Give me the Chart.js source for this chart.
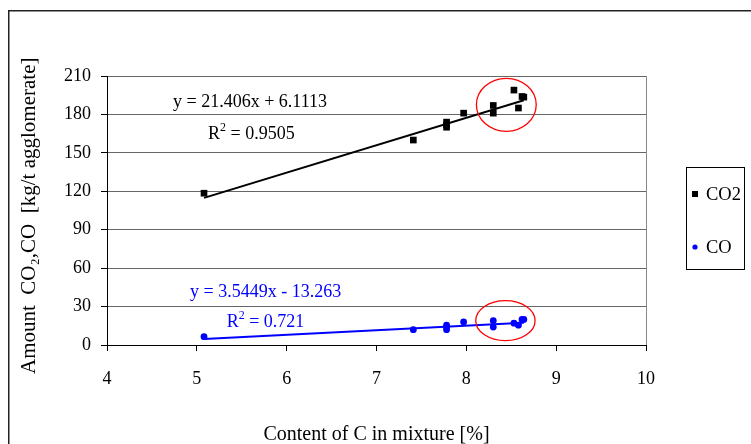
<!DOCTYPE html>
<html><head><meta charset="utf-8">
<script src="https://cdn.jsdelivr.net/npm/chart.js@4/dist/chart.umd.min.js"></script>
<style>html,body{margin:0;padding:0;background:#fff;}#wrap{width:751px;height:444px;position:relative;}</style>
</head><body><div id="wrap"><canvas id="c" width="751" height="444"></canvas></div>
<script>
// ---- data ----
const carbon = [5.08, 7.41, 7.78, 7.78, 7.78, 7.97, 8.30, 8.30, 8.53, 8.58, 8.62, 8.64];
const co2Values = [118.5, 160, 174, 172, 170, 181, 187, 181, 199, 185, 194, 193.5];
const coValues = [6.5, 12, 15.5, 14, 12, 18, 19, 14, 17, 15.5, 20, 20];
const xTickValues = [4, 5, 6, 7, 8, 9, 10];
const yTickValues = [0, 30, 60, 90, 120, 150, 180, 210];
const co2Fit = [21.406, 6.1113, 0.9505];   // slope, intercept, R^2 (as printed)
const coFit = [3.5449, -13.263, 0.721];
const seriesNames = ['CO2', 'CO'];
const xTitle = 'Content of C in mixture [%]';
const yTitle = 'Amount  CO\u2082,CO  [kg/t agglomerate]  ';

const FONT = "'Liberation Serif', 'Times New Roman', serif";
const BLUE = '#0000FF';

const pts = (xs, ys) => xs.map((x, i) => ({x, y: ys[i]}));
const fitLine = (xs, f) => {
  const lo = Math.min(...xs), hi = Math.max(...xs);
  return [{x: lo, y: f[0] * lo + f[1]}, {x: hi, y: f[0] * hi + f[1]}];
};
const fmt = (v) => (v < 0 ? ' - ' : ' + ') + Math.abs(v);

// annotation placement (data coordinates)
const annotations = [
  {eq: 'y = ' + co2Fit[0] + 'x' + fmt(co2Fit[1]), r2: co2Fit[2], color: '#000',
   eqAt: [4.735, 185.8], r2At: [5.124, 160.6]},
  {eq: 'y = ' + coFit[0] + 'x' + fmt(coFit[1]), r2: coFit[2], color: BLUE,
   eqAt: [4.924, 37.7], r2At: [5.332, 13.8]}
];
const ellipses = [
  {cx: 8.445, cy: 187.5, rx: 0.333, ry: 20.7},
  {cx: 8.435, cy: 19, rx: 0.330, ry: 15.6}
];

const decor = {
  id: 'decor',
  afterDatasetsDraw(chart) {
    const {ctx, scales: {x, y}} = chart;
    ctx.save();
    ctx.strokeStyle = '#FF0000';
    ctx.lineWidth = 1.3;
    ellipses.forEach(e => {
      const cx = x.getPixelForValue(e.cx), cy = y.getPixelForValue(e.cy);
      const rx = x.getPixelForValue(e.cx + e.rx) - cx;
      const ry = cy - y.getPixelForValue(e.cy + e.ry);
      ctx.beginPath();
      ctx.ellipse(cx, cy, rx, ry, 0, 0, Math.PI * 2);
      ctx.stroke();
    });
    ctx.textBaseline = 'alphabetic';
    ctx.textAlign = 'left';
    annotations.forEach(a => {
      ctx.fillStyle = a.color;
      ctx.font = '18px ' + FONT;
      ctx.fillText(a.eq, x.getPixelForValue(a.eqAt[0]), y.getPixelForValue(a.eqAt[1]));
      let px = x.getPixelForValue(a.r2At[0]);
      const py = y.getPixelForValue(a.r2At[1]);
      ctx.fillText('R', px, py);
      px += ctx.measureText('R').width;
      ctx.font = '12px ' + FONT;
      ctx.fillText('2', px, py - 8);
      px += ctx.measureText('2').width;
      ctx.font = '18px ' + FONT;
      ctx.fillText(' = ' + a.r2, px, py);
    });
    ctx.restore();
  },
  afterDraw(chart) {
    const {ctx} = chart;
    ctx.save();
    ctx.strokeStyle = '#222';
    ctx.lineWidth = 1.5;
    ctx.strokeRect(8.75, 10.75, 800, 500);
    ctx.lineWidth = 1;
    ctx.strokeStyle = '#000';
    ctx.strokeRect(686.5, 167.5, 58, 102);
    const items = chart.data.datasets.filter(d => d.inLegend);
    const rowsY = [194, 247];
    ctx.font = '18.5px ' + FONT;
    ctx.textBaseline = 'middle';
    ctx.textAlign = 'left';
    items.forEach((d, i) => {
      const cy = rowsY[i];
      ctx.fillStyle = d.backgroundColor;
      if (d.pointStyle === 'rect') ctx.fillRect(692, cy - 3, 6, 6);
      else { ctx.beginPath(); ctx.arc(695, cy, 2.6, 0, Math.PI * 2); ctx.fill(); }
      ctx.fillStyle = '#000';
      ctx.fillText(d.label, 706, cy + 1);
    });
    ctx.restore();
  }
};

new Chart(document.getElementById('c'), {
  type: 'scatter',
  data: {
    datasets: [
      {label: seriesNames[0] + ' trend', data: fitLine(carbon, co2Fit), showLine: true,
       borderColor: '#000', borderWidth: 2, pointRadius: 0, fill: false},
      {label: seriesNames[1] + ' trend', data: fitLine(carbon, coFit), showLine: true,
       borderColor: BLUE, borderWidth: 2, pointRadius: 0, fill: false},
      {label: seriesNames[0], data: pts(carbon, co2Values), inLegend: true,
       pointStyle: 'rect', pointRadius: 4.7, backgroundColor: '#000', borderColor: '#000', borderWidth: 0},
      {label: seriesNames[1], data: pts(carbon, coValues), inLegend: true,
       pointStyle: 'circle', pointRadius: 3.4, backgroundColor: BLUE, borderColor: BLUE, borderWidth: 0}
    ]
  },
  options: {
    responsive: false,
    animation: false,
    devicePixelRatio: 1,
    layout: {padding: {left: 0, top: 76, right: 105, bottom: 0}},
    plugins: {legend: {display: false}, tooltip: {enabled: false}},
    scales: {
      x: {
        type: 'linear', min: 4, max: 10,
        afterBuildTicks: s => { s.ticks = xTickValues.map(v => ({value: v})); },
        afterFit: s => { s.height = 99; },
        grid: {
          color: c => (c.tick && c.tick.value === 10) ? '#888' : 'rgba(0,0,0,0)',
          tickColor: '#000', tickLength: 6, lineWidth: 1
        },
        border: {display: true, color: '#000', width: 1},
        ticks: {color: '#000', font: {family: FONT, size: 18}, padding: 17, maxRotation: 0},
        title: {display: true, text: xTitle, color: '#000',
          font: {family: FONT, size: 20, lineHeight: 0.9}, padding: {top: 0, bottom: 0}}
      },
      y: {
        type: 'linear', min: 0, max: 210,
        afterBuildTicks: s => { s.ticks = yTickValues.map(v => ({value: v})); },
        afterFit: s => { s.width = 107; },
        grid: {
          color: c => (c.tick && c.tick.value === 0) ? '#000' : '#666',
          tickColor: '#000', tickLength: 6, lineWidth: 1
        },
        border: {display: true, color: '#000', width: 1},
        ticks: {color: '#000', font: {family: FONT, size: 18}, padding: 10},
        title: {display: true, text: yTitle, color: '#000',
          font: {family: FONT, size: 21}, padding: {top: 17, bottom: 0}}
      }
    }
  },
  plugins: [decor]
});
</script>
</body></html>
